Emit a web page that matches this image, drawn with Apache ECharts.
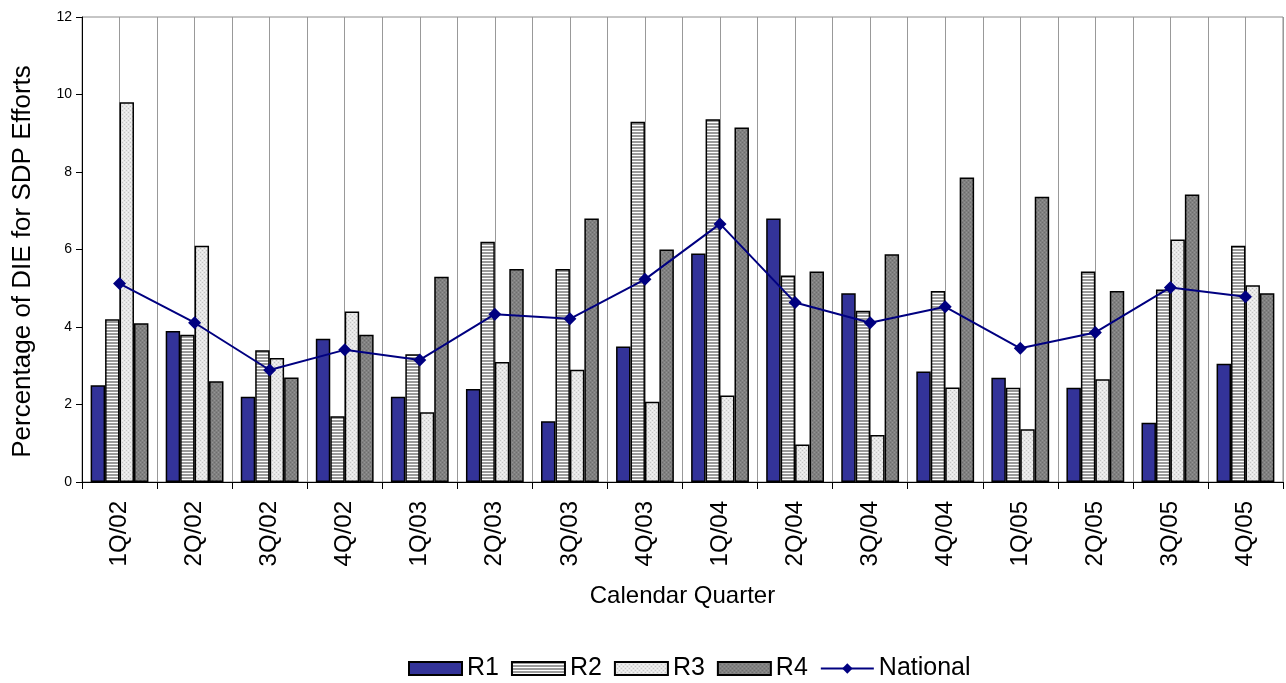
<!DOCTYPE html>
<html>
<head>
<meta charset="utf-8">
<script src="https://cdn.jsdelivr.net/npm/echarts@6/dist/echarts.min.js"></script>
<style>
  html, body { margin: 0; padding: 0; background: #fff; }
  #chart { width: 1286px; height: 683px; }
</style>
</head>
<body>
<div id="chart"></div>
<script>
// Share of DIE spent on SDP efforts, by region and quarter
const quarters = ['1Q/02','2Q/02','3Q/02','4Q/02','1Q/03','2Q/03','3Q/03','4Q/03',
                  '1Q/04','2Q/04','3Q/04','4Q/04','1Q/05','2Q/05','3Q/05','4Q/05'];
const r1 = [2.5, 3.9, 2.2, 3.7, 2.2, 2.4, 1.57, 3.5, 5.9, 6.8, 4.87, 2.85, 2.69, 2.43, 1.53, 3.05];
const r2 = [4.2, 3.8, 3.4, 1.7, 3.3, 6.2, 5.5, 9.3, 9.36, 5.33, 4.42, 4.93, 2.43, 5.43, 4.97, 6.1];
const r3 = [9.8, 6.1, 3.2, 4.4, 1.8, 3.1, 2.9, 2.07, 2.23, 0.97, 1.21, 2.44, 1.36, 2.65, 6.26, 5.08];
const r4 = [4.1, 2.6, 2.7, 3.8, 5.3, 5.5, 6.8, 6.0, 9.15, 5.43, 5.88, 7.86, 7.36, 4.93, 7.42, 4.87];
const national = [5.12, 4.11, 2.89, 3.41, 3.15, 4.33, 4.21, 5.23, 6.66, 4.63, 4.11, 4.52, 3.45, 3.86, 5.02, 4.78];
const yTicks = { min: 0, max: 12, step: 2 };

const FONT = '"Liberation Sans", Arial, sans-serif';

// Small repeating fills for the patterned bars
function makePattern(w, h, draw) {
  const c = document.createElement('canvas');
  c.width = w; c.height = h;
  const ctx = c.getContext('2d');
  draw(ctx);
  return { image: c, repeat: 'repeat' };
}
const stripeFill = makePattern(4, 3, ctx => {
  ctx.fillStyle = '#ffffff'; ctx.fillRect(0, 0, 4, 3);
  ctx.fillStyle = '#9a9a9a'; ctx.fillRect(0, 0, 4, 2);
});
const lightDotFill = makePattern(4, 4, ctx => {
  ctx.fillStyle = '#e6e6e6'; ctx.fillRect(0, 0, 4, 4);
  ctx.fillStyle = '#c4c4c4'; ctx.fillRect(0, 0, 1, 1); ctx.fillRect(2, 2, 1, 1);
  ctx.fillStyle = '#f6f6f6'; ctx.fillRect(2, 0, 1, 1); ctx.fillRect(0, 2, 1, 1);
});
const darkDotFill = makePattern(4, 4, ctx => {
  ctx.fillStyle = '#808080'; ctx.fillRect(0, 0, 4, 4);
  ctx.fillStyle = '#6c6c6c'; ctx.fillRect(0, 0, 1, 1); ctx.fillRect(2, 2, 1, 1);
  ctx.fillStyle = '#949494'; ctx.fillRect(2, 0, 1, 1); ctx.fillRect(0, 2, 1, 1);
});

function barSeries(name, data, fill) {
  return {
    name, type: 'bar', data,
    xAxisIndex: 0, yAxisIndex: 0,
    barGap: '0%', barCategoryGap: '23%',
    itemStyle: { color: fill, borderColor: '#000', borderWidth: 1.5 },
    emphasis: { disabled: true }
  };
}

const chart = echarts.init(document.getElementById('chart'), null, { renderer: 'canvas' });
chart.setOption({
  animation: false,
  backgroundColor: '#fff',
  textStyle: { fontFamily: FONT, color: '#000' },
  grid: {
    left: 82, right: 3, top: 17, bottom: 201,
    show: true, borderColor: '#8c8c8c', borderWidth: 1, containLabel: false
  },
  legend: {
    left: 403, top: 651,
    itemWidth: 53, itemHeight: 13, itemGap: 12,
    textStyle: { fontSize: 25, fontFamily: FONT, color: '#000' },
    data: [
      { name: 'R1', icon: 'rect' },
      { name: 'R2', icon: 'rect' },
      { name: 'R3', icon: 'rect' },
      { name: 'R4', icon: 'rect' },
      'National'
    ]
  },
  xAxis: [
    {
      type: 'category', data: quarters, position: 'bottom',
      axisLine: { lineStyle: { color: '#000', width: 1 } },
      axisTick: { show: true, length: 7, lineStyle: { color: '#000' } },
      axisLabel: { rotate: 90, fontSize: 24, margin: 19, color: '#000', fontFamily: FONT, interval: 0 },
      splitLine: { show: false },
      name: 'Calendar Quarter', nameLocation: 'middle', nameGap: 102,
      nameTextStyle: { fontSize: 24, color: '#000', fontFamily: FONT }
    },
    {
      // half-category gridlines
      type: 'category', data: Array.from({ length: quarters.length * 2 }, () => ''),
      position: 'bottom', gridIndex: 0,
      axisLine: { show: false }, axisTick: { show: false }, axisLabel: { show: false },
      splitLine: { show: true, interval: 0, lineStyle: { color: '#999', width: 1 } }
    }
  ],
  yAxis: {
    type: 'value', min: yTicks.min, max: yTicks.max, interval: yTicks.step,
    axisLine: { show: true, lineStyle: { color: '#000', width: 1 } },
    axisTick: { show: true, length: 6, lineStyle: { color: '#000' } },
    axisLabel: { fontSize: 14, color: '#000', margin: 10, fontFamily: FONT },
    splitLine: { show: false },
    name: 'Percentage of DIE for SDP Efforts', nameLocation: 'middle', nameGap: 46,
    nameTextStyle: { fontSize: 26, color: '#000', fontFamily: FONT, padding: [0, 24, 0, 0] }
  },
  series: [
    barSeries('R1', r1, '#333399'),
    barSeries('R2', r2, stripeFill),
    barSeries('R3', r3, lightDotFill),
    barSeries('R4', r4, darkDotFill),
    {
      name: 'National', type: 'line', data: national,
      xAxisIndex: 0, yAxisIndex: 0, z: 5,
      symbol: 'diamond', symbolSize: 13, showSymbol: true,
      lineStyle: { color: '#000080', width: 2 },
      itemStyle: { color: '#000080' },
      emphasis: { disabled: true }
    }
  ]
});
</script>
</body>
</html>
